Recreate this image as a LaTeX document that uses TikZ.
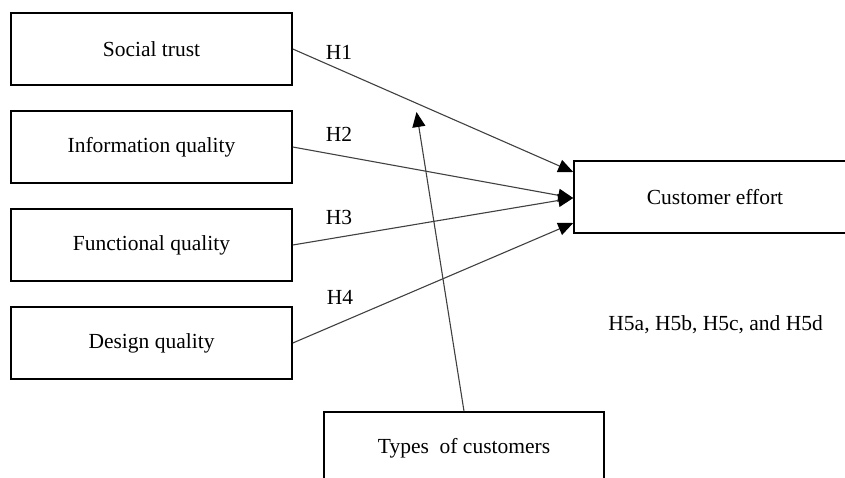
\documentclass[tikz,border=0pt]{standalone}
\usepackage{fontspec}
\setmainfont{Liberation Serif}
\usetikzlibrary{arrows.meta,calc}
\begin{document}
\begin{tikzpicture}[x=1pt,y=-1pt,
  box/.style={draw=black,line width=1.6pt,minimum width=281pt,minimum height=72pt,inner sep=0pt,font=\fontsize{21.5}{25}\selectfont},
  conn/.style={draw=black!75,line width=1.1pt,-{Triangle[length=15pt,width=13pt,color=black,fill=black]}},
  lab/.style={font=\fontsize{21.5}{25}\selectfont,inner sep=0pt}]
\useasboundingbox (0,0) rectangle (845,477);
\clip (0,0) rectangle (845,477);
\node[box] (st) at (151.5,49) {Social trust};
\node[box] (iq) at (151.5,147) {Information quality};
\node[box] (fq) at (151.5,245) {Functional quality};
\node[box] (dq) at (151.5,343) {Design quality};
\node[box,minimum width=282pt] (ce) at (715,197) {Customer effort};
\node[box,minimum width=280pt] (tc) at (464,448) {Types~ of customers};
\coordinate (ce1) at ([yshift=25pt]ce.west);
\coordinate (ce2) at ([yshift=-1pt]ce.west);
\coordinate (ce3) at ([yshift=-26pt]ce.west);
\coordinate (mod) at (416.5,112);
\draw[conn] (st.east) -- (ce1);
\draw[conn] (iq.east) -- (ce2);
\draw[conn] (fq.east) -- (ce2);
\draw[conn] (dq.east) -- (ce3);
\draw[conn] (tc.north) -- (mod);
\node[lab] (h1) at (339,52) {H1};
\node[lab] (h2) at (339,134) {H2};
\node[lab] (h3) at (339,217) {H3};
\node[lab] (h4) at (340,297) {H4};
\node[lab,anchor=east] (h5) at (823,325) {H5a, H5b, H5c, and H5d};
\end{tikzpicture}
\end{document}
